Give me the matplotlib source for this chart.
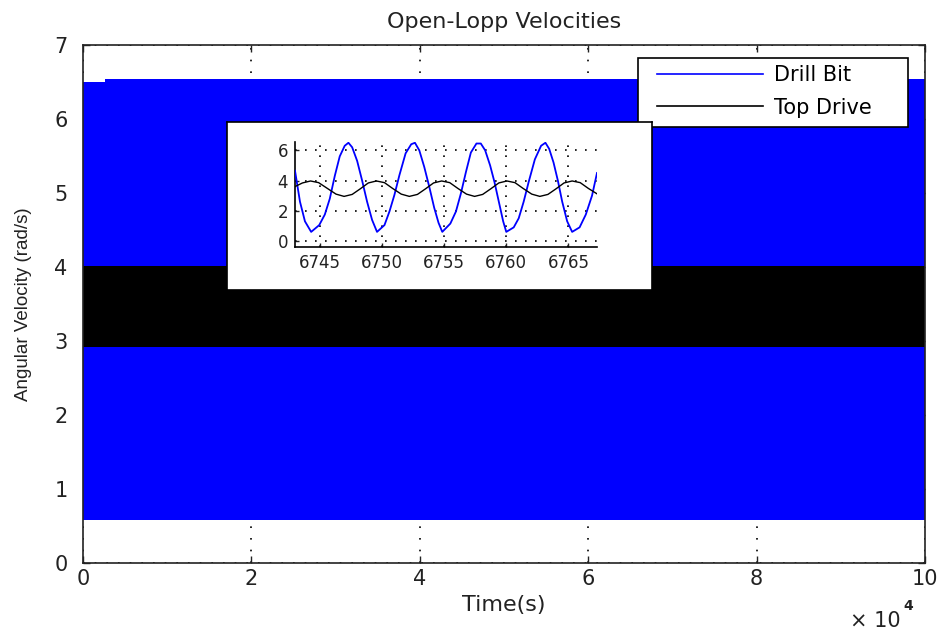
import matplotlib
matplotlib.use("Agg")
import matplotlib.pyplot as plt
from matplotlib.lines import Line2D
from matplotlib.patches import Rectangle

plt.rcParams['font.family'] = ['DejaVu Sans']

# Envelope of the long run (the oscillation is too dense to resolve at this scale)
env_time = [0, 2600, 2600, 100000]
bit_upper = [6.50, 6.50, 6.54, 6.54]
bit_lower = [0.58, 0.58, 0.58, 0.58]
drive_upper = [4.01, 4.01, 4.01, 4.01]
drive_lower = [2.92, 2.92, 2.92, 2.92]

# Zoomed window samples
bit_t = [6743.0, 6743.4, 6743.8, 6744.3, 6744.95, 6745.4, 6745.8, 6746.2, 6746.6,
         6747.0, 6747.3, 6747.6, 6748.0, 6748.4, 6748.8, 6749.2, 6749.6, 6750.2,
         6750.6, 6751.0, 6751.4, 6751.9, 6752.35, 6752.65, 6753.0, 6753.4, 6753.8,
         6754.2, 6754.55, 6754.85, 6755.5, 6755.95, 6756.35, 6756.75, 6757.15,
         6757.6, 6757.95, 6758.3, 6758.7, 6759.05, 6759.4, 6759.75, 6760.0, 6760.6,
         6761.0, 6761.4, 6761.8, 6762.3, 6762.8, 6763.15, 6763.45, 6763.8, 6764.15,
         6764.5, 6764.9, 6765.3, 6765.9, 6766.4, 6766.9, 6767.3]
bit_w = [4.65, 2.6, 1.3, 0.6, 1.05, 1.75, 2.8, 4.3, 5.6,
         6.3, 6.5, 6.2, 5.3, 4.0, 2.6, 1.4, 0.6, 1.05,
         1.95, 3.05, 4.35, 5.8, 6.4, 6.5, 6.0, 4.9, 3.6,
         2.2, 1.2, 0.6, 1.15, 1.95, 3.15, 4.55, 5.85,
         6.45, 6.45, 6.0, 5.0, 3.9, 2.6, 1.3, 0.6, 0.9,
         1.5, 2.6, 3.9, 5.4, 6.3, 6.5, 6.1, 5.2, 4.0,
         2.6, 1.3, 0.6, 0.9, 1.75, 3.0, 4.5]

drive_t = [6743.0, 6743.6, 6744.25, 6744.9, 6745.6, 6746.3, 6746.95, 6747.6, 6748.25,
           6748.9, 6749.55, 6750.2, 6750.85, 6751.55, 6752.2, 6752.85, 6753.5,
           6754.15, 6754.8, 6755.45, 6756.1, 6756.8, 6757.45, 6758.1, 6758.75,
           6759.4, 6760.05, 6760.7, 6761.35, 6762.05, 6762.7, 6763.35, 6764.0,
           6764.65, 6765.3, 6765.95, 6766.6, 6767.3]
drive_w = [3.60, 3.84, 3.97, 3.86, 3.48, 3.10, 2.95, 3.08, 3.45,
           3.84, 3.97, 3.86, 3.48, 3.10, 2.95, 3.08, 3.45,
           3.84, 3.97, 3.86, 3.48, 3.10, 2.95, 3.08, 3.45,
           3.84, 3.97, 3.86, 3.48, 3.10, 2.95, 3.08, 3.45,
           3.84, 3.97, 3.86, 3.48, 3.12]

main_xticks = [0, 20000, 40000, 60000, 80000, 100000]
main_xticklabels = ['0', '2', '4', '6', '8', '10']
main_yticks = [0, 1, 2, 3, 4, 5, 6, 7]
inset_xticks = [6745, 6750, 6755, 6760, 6765]
inset_yticks = [0, 2, 4, 6]

INK = '#222222'
W, H = 939, 630
fig = plt.figure(figsize=(W / 100, H / 100), dpi=100)
fig.patch.set_facecolor('white')

def fbox(l, t, r, b):
    return [l / W, (H - b) / H, (r - l) / W, (b - t) / H]

ax = fig.add_axes(fbox(83, 45, 925, 563))
ax.fill_between(env_time, bit_lower, bit_upper, color='#0000ff', lw=0, zorder=2)
ax.fill_between(env_time, drive_lower, drive_upper, color='#000000', lw=0, zorder=3)
ax.set_xlim(0, 100000)
ax.set_ylim(0, 7)
ax.set_xticks(main_xticks)
ax.set_xticklabels(main_xticklabels)
ax.set_yticks(main_yticks)
ax.tick_params(direction='in', length=5, width=1, labelsize=15, colors=INK,
               top=True, right=True)
ax.tick_params(axis='x', pad=4)
ax.tick_params(axis='y', pad=11)
ax.grid(True, color='black', linestyle=(0, (1, 6)), linewidth=1.2, zorder=1)
ax.set_axisbelow(True)
for s in ax.spines.values():
    s.set_linewidth(1.2)
    s.set_color(INK)
    s.set_zorder(5)
ax.set_title('Open-Lopp Velocities', fontsize=16, pad=12, color=INK)
ax.set_xlabel('Time(s)', fontsize=16, labelpad=5, color=INK)
ax.set_ylabel('Angular Velocity (rad/s)', fontsize=13.5, labelpad=16, color=INK,
              family='Liberation Sans')

# Axis multiplier below the right end of the x axis
fig.text(901 / W, (H - 627) / H, '\u00d7 10', fontsize=15, ha='right',
         va='baseline', color=INK)
fig.text(903 / W, (H - 610) / H, '4', fontsize=10, ha='left',
         va='baseline', color=INK, fontweight='bold')

# Legend: boxed frame plus entries
ax.add_patch(Rectangle((638 / W, (H - 127) / H), 270 / W, 69 / H,
                       transform=fig.transFigure, facecolor='white',
                       edgecolor='black', lw=1.2, zorder=9, clip_on=False))
handles = [Line2D([], [], color='#0000ff', lw=1.2),
           Line2D([], [], color='black', lw=1.2)]
leg = ax.legend(handles, ['Drill Bit', 'Top Drive'], loc='upper left',
                bbox_to_anchor=(657 / W, (H - 65) / H), bbox_transform=fig.transFigure,
                prop={'size': 15}, frameon=False, handlelength=5.1,
                handletextpad=0.5, borderpad=0, labelspacing=0.6, borderaxespad=0)
leg.set_zorder(10)

# White panel behind the zoomed view
panel = fig.add_axes(fbox(227, 122, 652, 290))
panel.set_xticks([])
panel.set_yticks([])
panel.set_facecolor('white')
for s in panel.spines.values():
    s.set_linewidth(1.2)
    s.set_color('black')
panel.set_zorder(20)

ins = fig.add_axes(fbox(295, 142, 597, 247))
ins.set_zorder(21)
ins.plot(bit_t, bit_w, color='#0000ff', lw=1.3, zorder=3)
ins.plot(drive_t, drive_w, color='black', lw=1.0, zorder=3)
ins.set_xlim(6743.0, 6767.3)
ins.set_ylim(-0.4, 6.55)
ins.set_xticks(inset_xticks)
ins.set_yticks(inset_yticks)
ins.tick_params(direction='in', length=3, width=1, labelsize=12, pad=5, colors=INK)
ins.grid(True, color='black', linestyle=(0, (1, 5)), linewidth=1.2)
ins.set_axisbelow(True)
ins.spines['top'].set_visible(False)
ins.spines['right'].set_visible(False)
ins.spines['left'].set_linewidth(1.2)
ins.spines['bottom'].set_linewidth(1.2)
ins.set_facecolor('white')

fig.savefig('out.png', dpi=100, facecolor='white')
